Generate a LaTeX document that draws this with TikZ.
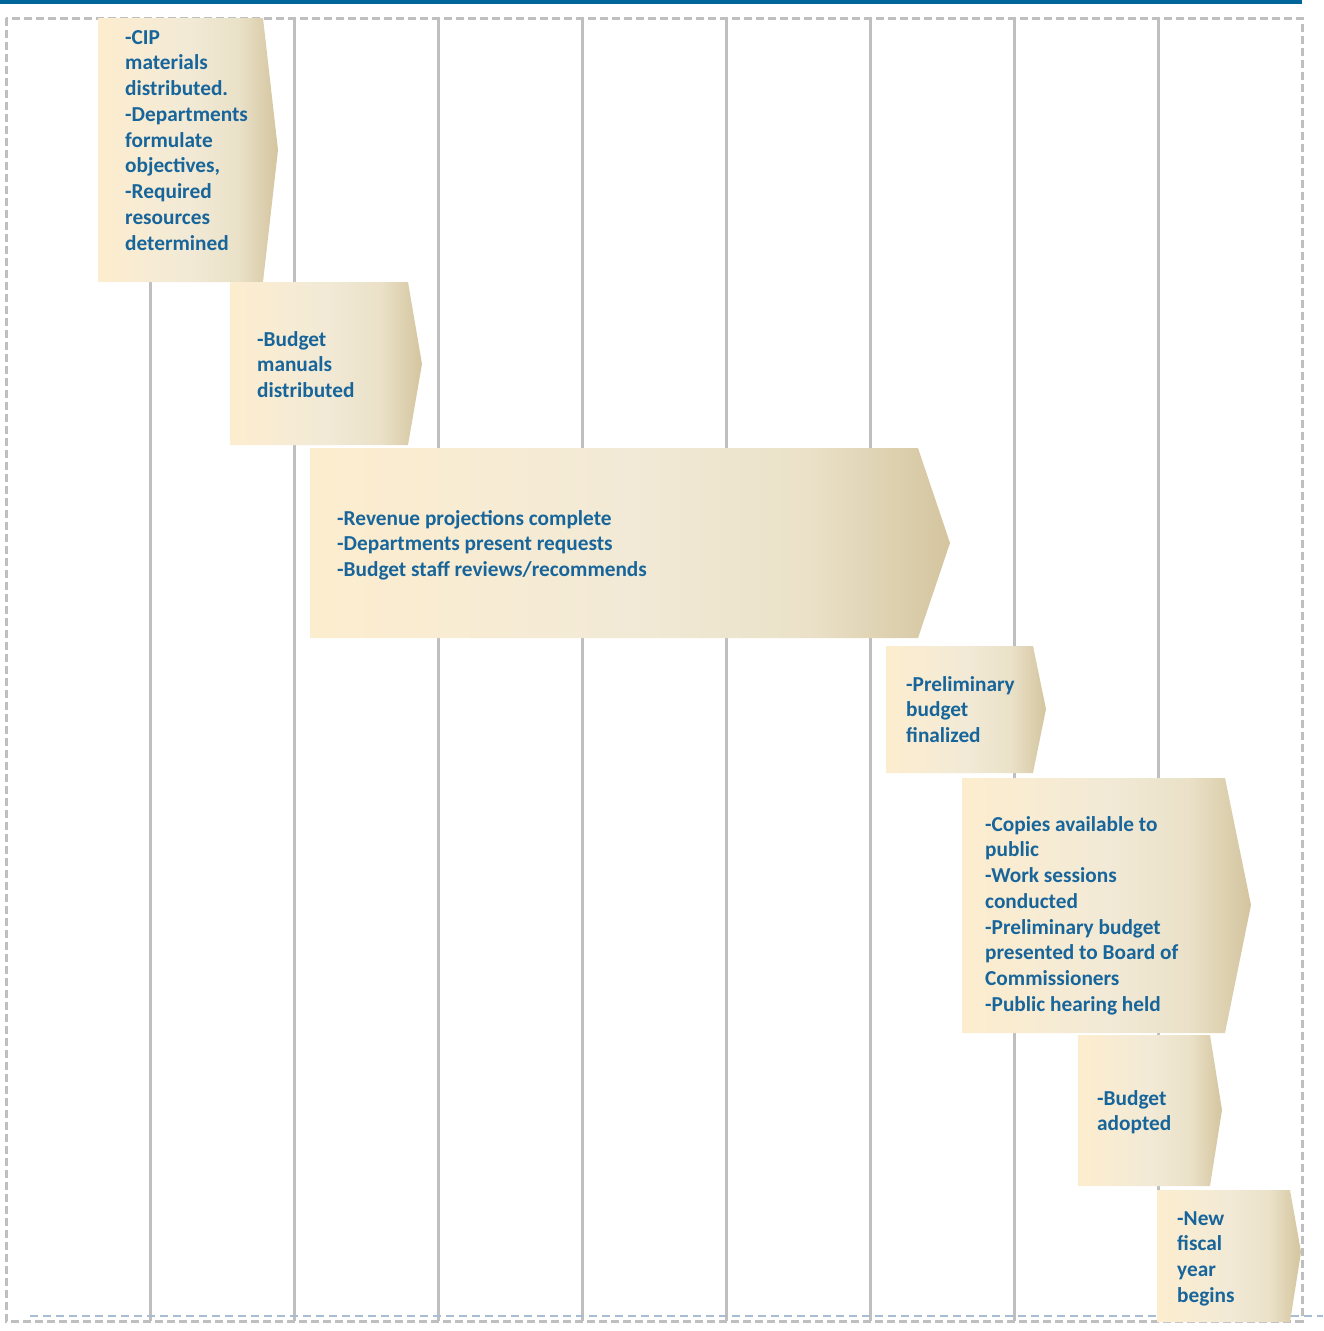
\documentclass[tikz,border=0pt]{standalone}
\usepackage{fontspec}
\setmainfont{Carlito}
\definecolor{barblue}{HTML}{00669A}
\definecolor{txtblue}{HTML}{17659A}
\definecolor{gridgray}{HTML}{BFBFBF}
\definecolor{dashblue}{HTML}{A8BCD2}
\definecolor{cA}{HTML}{FDEDCF}
\definecolor{cB}{HTML}{F2EAD6}
\definecolor{cM}{HTML}{EAE1C8}
\definecolor{cC}{HTML}{D4C59F}
\pgfdeclarehorizontalshading{chevshade}{100bp}{color(0bp)=(cA); color(25bp)=(cA); color(50bp)=(cB); color(64bp)=(cM); color(75bp)=(cC); color(100bp)=(cC)}
\tikzset{
  chevron/.style={shading=chevshade, draw=none},
  lbl/.style={anchor=base west, align=left, inner sep=0pt, text=txtblue,
    font=\fontsize{21.3}{25.75}\selectfont\bfseries},
  gridline/.style={draw=gridgray, line width=3pt},
  frame/.style={draw=gridgray, line width=3pt, dash pattern=on 8pt off 4pt},
  basedash/.style={draw=dashblue, line width=2pt, dash pattern=on 8pt off 5pt}
}
\begin{document}
\begin{tikzpicture}[x=1pt,y=-1pt]
\useasboundingbox (0,0) rectangle (1323,1331);
% top bar
\fill[barblue] (0,0) rectangle (1302,4);
% grid lines
\foreach \xx in {150,294,438,582,726,870,1014,1158}
  \draw[gridline] (\xx,18) -- (\xx,1321);
% frame
\draw[frame] (6,18) rectangle (1302,1321);
% bottom blue dashed line
\coordinate (bl) at (30,1316);
\coordinate (br) at (1323,1316);
\draw[basedash] (bl) -- (br);
% chevrons
\shade[chevron] (98,18) -- (263,18) -- (278,150) -- (263,282) -- (98,282) -- cycle;
\shade[chevron] (230,282) -- (408,282) -- (422,364) -- (408,445) -- (230,445) -- cycle;
\shade[chevron] (310,448) -- (918,448) -- (950,543) -- (918,638) -- (310,638) -- cycle;
\shade[chevron] (886,646) -- (1033,646) -- (1046,709) -- (1033,773) -- (886,773) -- cycle;
\shade[chevron] (962,778) -- (1225,778) -- (1251,905) -- (1225,1033) -- (962,1033) -- cycle;
\shade[chevron] (1078,1035) -- (1210,1035) -- (1222,1110) -- (1210,1186) -- (1078,1186) -- cycle;
\shade[chevron] (1157,1190) -- (1290,1190) -- (1301,1252) -- (1290,1322) -- (1157,1322) -- cycle;
% labels (anchored at the baseline of the last line)
\node[lbl] (t1) at (125,250) {-CIP\\materials\\distributed.\\-Departments\\formulate\\objectives,\\-Required\\resources\\determined};
\node[lbl] (t2) at (257,397.5) {-Budget\\manuals\\distributed};
\node[lbl] (t3) at (337,576.5) {-Revenue projections complete\\-Departments present requests\\-Budget staff reviews/recommends};
\node[lbl] (t4) at (906,742.5) {-Preliminary\\budget\\finalized};
\node[lbl] (t5) at (985,1011.25) {-Copies available to\\public\\-Work sessions\\conducted\\-Preliminary budget\\presented to Board of\\Commissioners\\-Public hearing held};
\node[lbl] (t6) at (1097,1130.75) {-Budget\\adopted};
\node[lbl] (t7) at (1177,1302.25) {-New\\fiscal\\year\\begins};
\end{tikzpicture}
\end{document}
